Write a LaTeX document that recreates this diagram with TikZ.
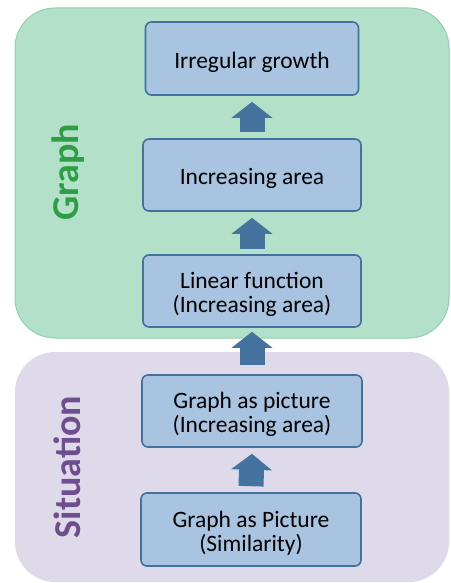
\documentclass[tikz,border=0pt]{standalone}
\usepackage{fontspec}
\setmainfont{Carlito}
\usetikzlibrary{arrows.meta,calc}
\definecolor{grfill}{HTML}{B2E0C8}
\definecolor{grline}{HTML}{8FD0AE}
\definecolor{pufill}{HTML}{DFDAEA}
\definecolor{bxfill}{HTML}{A9C4E0}
\definecolor{bxline}{HTML}{41719C}
\definecolor{arcol}{HTML}{44739F}
\definecolor{grtext}{HTML}{2E9E45}
\definecolor{putext}{HTML}{6E4E8E}
\newcommand{\boxstrut}{\rule{0pt}{24bp}}
\tikzset{
  region/.style={rounded corners=40bp},
  stepbox/.style={draw=bxline, line width=1.6bp, fill=bxfill, rounded corners=6bp,
    align=center, inner sep=0pt, font=\fontsize{23.5bp}{24bp}\selectfont},
  blockarrow/.style={draw=arcol, line width=25bp, -{Triangle[width=40bp,length=16bp]}},
  sidelabel/.style={rotate=90, font=\fontsize{38bp}{40bp}\selectfont\bfseries}
}
\begin{document}
\begin{tikzpicture}[x=1bp,y=-1bp]
\useasboundingbox (0,0) rectangle (451,583);
\fill[white] (0,0) rectangle (451,583);
\path[region, fill=grfill, draw=grline, line width=1bp] (15,8) rectangle (449,338);
\path[region, fill=pufill] (15,352) rectangle (449,582);
\node[sidelabel, text=grtext] (lgraph) at (68,172) {Graph};
\node[sidelabel, text=putext] (lsit) at (67,467) {Situation};
\node[stepbox, minimum width=213bp, minimum height=73bp] (b1) at (252,58.5) {\boxstrut Irregular growth};
\node[stepbox, minimum width=218bp, minimum height=72bp] (b2) at (252,175) {\boxstrut Increasing area};
\node[stepbox, minimum width=218bp, minimum height=72bp] (b3) at (252,291) {\boxstrut Linear function\\(Increasing area)};
\node[stepbox, minimum width=220bp, minimum height=72bp] (b4) at (252,411) {\boxstrut Graph as picture\\(Increasing area)};
\node[stepbox, minimum width=220bp, minimum height=73bp] (b5) at (251,529.5) {\boxstrut Graph as Picture\\(Similarity)};
\draw[blockarrow] ($(b2.north)+(0,-6)$) -- ($(b1.south)+(0,6)$);
\draw[blockarrow] ($(b3.north)+(0,-5)$) -- ($(b2.south)+(0,6)$);
\draw[blockarrow] ($(b4.north)+(0,-9)$) -- ($(b3.south)+(0,4)$);
\draw[blockarrow] ($(b5.north)+(0,-6)$) -- ($(b4.south)+(0,6)$);
\end{tikzpicture}
\end{document}
